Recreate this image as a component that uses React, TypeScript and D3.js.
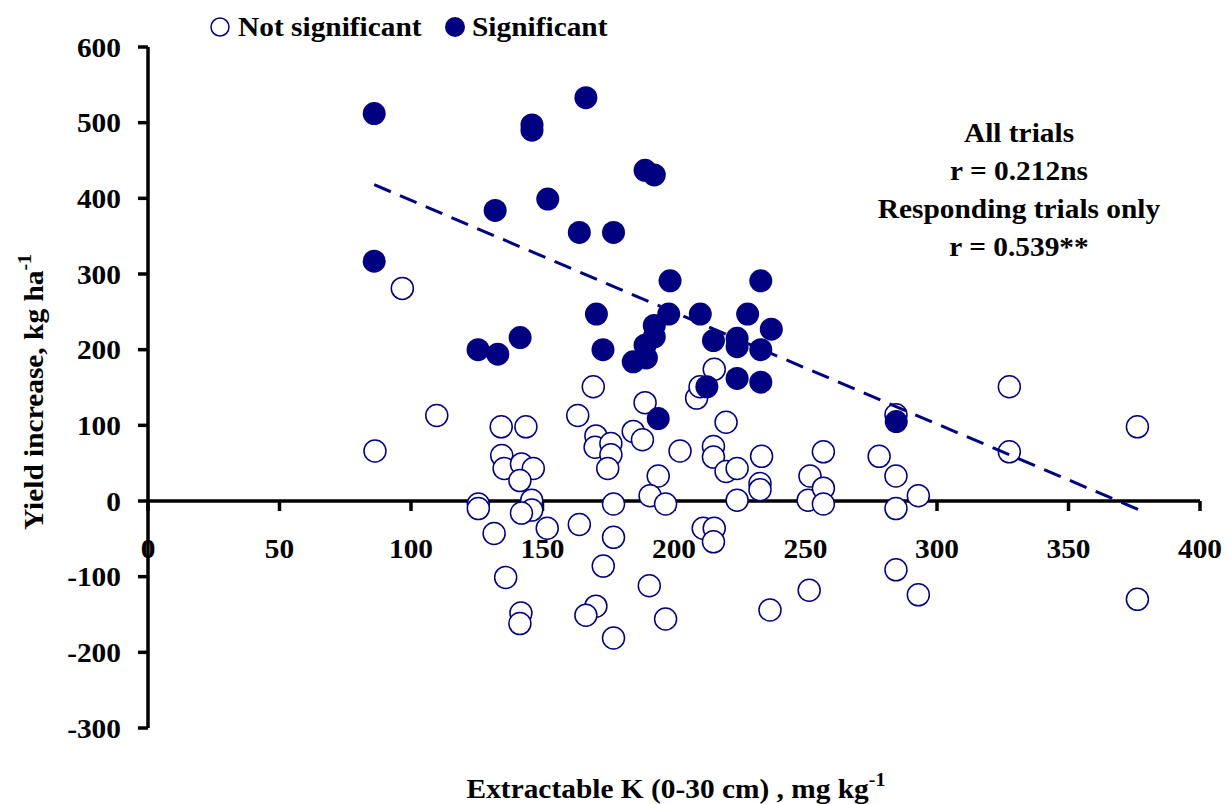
import React from 'react';
import * as d3 from 'd3';

// extractable K (mg/kg) and yield increase (kg/ha)
const sigK = [86, 146, 146, 166.5, 189, 192.5, 152, 132, 164, 177, 86, 198.5, 233, 170.5, 198, 210, 228, 192.5, 237, 141.5, 215, 224, 224, 192.5, 189, 189.5, 184.5, 125.5, 133, 173, 233, 212.5, 224, 233, 194, 284.5];
const sigYield = [512, 497, 490, 533, 437, 431, 399, 384, 355, 355, 317, 291, 291, 247, 247, 247, 247, 232, 227, 216, 212, 215, 204, 217, 206, 189, 184, 200, 194, 200, 200, 151, 162, 157, 109, 105];

const nsK = [86.3, 96.7, 109.8, 125.6, 125.6, 131.6, 134.3, 143.7, 134.5, 135.4, 142, 146.5, 141.4, 145.9, 145.9, 142, 151.8, 136, 141.8, 141.4, 163.4, 164, 169.3, 170.3, 170, 176, 176, 174.8, 177, 177, 173.1, 170.3, 166.5, 177, 189, 184.5, 188, 194, 190.9, 196.8, 190.6, 196.8, 202.3, 208.6, 209.9, 215.3, 219.8, 215, 215, 219.8, 224, 211.1, 215.3, 215, 224, 233.3, 232.7, 232.7, 236.5, 251.7, 256.8, 251, 256.8, 256.8, 251.4, 278, 284.4, 284.4, 292.9, 284.4, 284.4, 292.9, 327.5, 327.5, 376.2, 376.2];
const nsYield = [66, 281, 113, -4, -10, -43, 98, 98, 60, 43, 49, 43, 27, 1, -12, -16, -36, -101, -148, -162, 113, -31, 151, 86, 71, 76, 61, 43, -4, -48, -86, -139, -151, -181, 130, 92, 81, 33, 7, -4, -112, -156, 66, 136, 151, 174, 104, 72, 58, 39, 43, -36, -36, -54, 1, 59, 23, 15, -144, 33, 65, 1, 17, -4, -118, 59, 33, -10, 7, 114, -91, -124, 151, 65, 98, -130];

// regression line end points
const trendK = [86, 377];
const trendYield = [418, -12];

const xTicks = [0, 50, 100, 150, 200, 250, 300, 350, 400];
const yTicks = [-300, -200, -100, 0, 100, 200, 300, 400, 500, 600];

const notes = ['All trials', 'r = 0.212ns', 'Responding trials only', 'r = 0.539**'];

const NAVY = '#000080';
const FONT = '"Liberation Serif", "Times New Roman", serif';
const FS = 28;
const STRETCH = 1.05; // the original's lettering is a touch wider than Times

// text with the slight horizontal stretch
const T = ({ x, y, anchor = 'start', rotate = 0, dy, children }: any) => (
  <text transform={`translate(${x},${y}) rotate(${rotate}) scale(${STRETCH},1)`}
    textAnchor={anchor} dy={dy} fontSize={FS}>{children}</text>
);

const App = () => {
  const width = 1230;
  const height = 804;

  const x = d3.scaleLinear().domain([0, 400]).range([148, 1200]);
  const y = d3.scaleLinear().domain([-300, 600]).range([728, 47]);

  const line = d3.line<number>()
    .x((d, i) => x(trendK[i]))
    .y(d => y(d));

  return (
    <svg width={width} height={height} style={{ position: 'absolute', left: 0, top: 0, background: '#fff' }}
      fontFamily={FONT} fontWeight="bold">
      {/* y axis */}
      <line x1={x(0)} x2={x(0)} y1={y(600)} y2={y(-300)} stroke="#000" strokeWidth={3.5} />
      {yTicks.map(t => (
        <g key={'y' + t}>
          <line x1={x(0) - 10} x2={x(0)} y1={y(t)} y2={y(t)} stroke="#000" strokeWidth={3.5} />
          <T x={x(0) - 27} y={y(t)} dy="0.34em" anchor="end">{t}</T>
        </g>
      ))}

      {/* x axis at zero */}
      <line x1={x(0)} x2={x(400)} y1={y(0)} y2={y(0)} stroke="#000" strokeWidth={3.5} />
      {xTicks.map(t => (
        <g key={'x' + t}>
          <line x1={x(t)} x2={x(t)} y1={y(0)} y2={y(0) + 10} stroke="#000" strokeWidth={3.5} />
          <T x={x(t)} y={558} anchor="middle">{t}</T>
        </g>
      ))}

      {/* not significant */}
      {nsK.map((k, i) => (
        <circle key={'n' + i} cx={x(k)} cy={y(nsYield[i])} r={11} fill="#fff" stroke={NAVY} strokeWidth={1.5} />
      ))}

      {/* significant */}
      {sigK.map((k, i) => (
        <circle key={'s' + i} cx={x(k)} cy={y(sigYield[i])} r={11.5} fill={NAVY} />
      ))}

      <path d={line(trendYield) || ''} fill="none" stroke={NAVY} strokeWidth={3} strokeDasharray="18,10" />

      {/* legend */}
      <circle cx={220} cy={27} r={9} fill="#fff" stroke={NAVY} strokeWidth={1.5} />
      <T x={238} y={36}>Not significant</T>
      <circle cx={455} cy={27} r={10} fill={NAVY} />
      <T x={472} y={36}>Significant</T>

      {/* stats note */}
      {notes.map((n, i) => (
        <T key={n} x={1019} y={142 + i * 38} anchor="middle">{n}</T>
      ))}

      {/* axis titles */}
      <T x={676} y={798} anchor="middle">
        Extractable K (0-30 cm) , mg kg<tspan dy={-12} fontSize={19}>-1</tspan>
      </T>
      <T x={43} y={392} anchor="middle" rotate={-90}>
        Yield increase, kg ha<tspan dy={-12} fontSize={19}>-1</tspan>
      </T>
    </svg>
  );
};

export default App;
